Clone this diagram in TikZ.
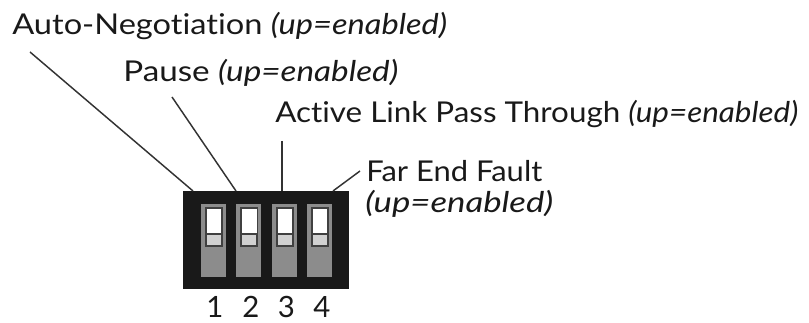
\documentclass[tikz,border=0pt]{standalone}
\usepackage{fontspec}
\usepackage{graphicx}
\setmainfont{Lato}[Ligatures=NoCommon]
\newcommand\fitpx[2]{\resizebox{#1\dimexpr0.75pt\relax}{\height}{#2}}
\begin{document}
\begin{tikzpicture}[x=0.75pt,y=-0.75pt,
  lbl/.style={anchor=base west,inner sep=0pt,font=\fontsize{21.5}{24}\selectfont,text=black!90},
  num/.style={anchor=base,inner sep=0pt,font=\fontsize{22}{24}\selectfont,text=black!90},
  leader/.style={draw=black!80,line width=1.1pt},
  knobbase/.style={fill=black!18,draw=black!75,line width=1.4pt}]
\useasboundingbox (0,0) rectangle (809,323);
% DIP switch body
\node[fill=black!90,draw=none,minimum width=124.5pt,minimum height=73.5pt,inner sep=0pt,anchor=north west] (body) at (183,191) {};
\foreach \i in {1,...,4}{
  \pgfmathsetmacro{\xo}{201+(\i-1)*35.4}
  \fill[black!45] (\xo,204) rectangle ++(25,73);
  \draw[knobbase] (\xo+5,208) rectangle ++(16,38);
  \fill[white] (\xo+5.9,208.9) rectangle ++(14.2,25);
  \draw[black!75,line width=1.4pt] (\xo+5,234) -- ++(16,0);
}
\node[num] (n1) at (215,318) {1};
\node[num] (n2) at (251,318) {2};
\node[num] (n3) at (286.5,318) {3};
\node[num] (n4) at (322,318) {4};
% labels
\node[lbl] (auto) at (12,35) {\fitpx{435}{Auto-Negotiation \textit{(up=enabled)}}};
\node[lbl] (pause) at (123,82) {\fitpx{275}{Pause \textit{(up=enabled)}}};
\node[lbl] (alpt) at (275,123) {\fitpx{523}{Active Link Pass Through \textit{(up=enabled)}}};
\node[lbl] (fef) at (366,182) {\fitpx{176}{Far End Fault}};
\node[lbl] (fef2) at (365,213) {\fitpx{188}{\textit{(up=enabled)}}};
% leader lines
\coordinate (a1) at (30,52);   \coordinate (a2) at (193,191);
\coordinate (p1) at (172,97);  \coordinate (p2) at (236,191);
\coordinate (l1) at (282,141); \coordinate (l2) at (282,191);
\coordinate (f1) at (360,171); \coordinate (f2) at (333,191);
\draw[leader] (a1) -- (a2);
\draw[leader] (p1) -- (p2);
\draw[leader] (l1) -- (l2);
\draw[leader] (f1) -- (f2);
\end{tikzpicture}
\end{document}
